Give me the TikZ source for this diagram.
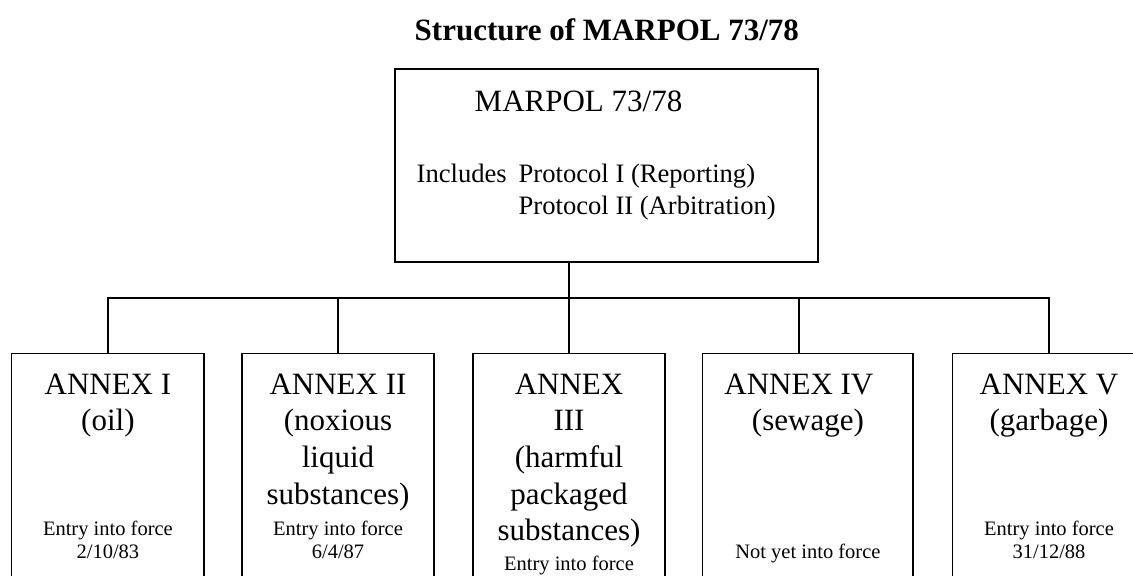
\documentclass[tikz,border=0pt]{standalone}
\usepackage{fontspec}
\setmainfont{Liberation Serif}
\begin{document}
\begin{tikzpicture}[x=0.5pt,y=-0.5pt,line width=0.7pt,
    annexbox/.style={shape=rectangle, draw=black, anchor=north, inner sep=0pt, minimum height=140pt},
    bigtext/.style={font=\fontsize{15.5}{18.35}\selectfont, align=center, anchor=base, inner sep=0pt},
    midtext/.style={font=\fontsize{13.3}{16}\selectfont, align=left, anchor=base west, inner sep=0pt},
    datetext/.style={font=\fontsize{10.25}{11.5}\selectfont, align=center, anchor=base, inner sep=0pt}]

    \useasboundingbox (0,0) rectangle (1133,575);
    \clip (0,0) rectangle (1133,575);

    \node[font=\bfseries\fontsize{15.5}{18.35}\selectfont, anchor=base west, inner sep=0pt] (title) at (414,40) {Structure of MARPOL 73/78};

    % top box (multi-line nodes sit on their last baseline)
    \node[shape=rectangle, draw=black, minimum width=211.5pt, minimum height=96.5pt] (marpol) at (606.5,165.5) {};
    \node[bigtext, anchor=base west] (marpolname) at (474,111) {MARPOL 73/78};
    \node[midtext] (includes) at (416,182) {Includes};
    \node[midtext] (protocols) at (518,214) {Protocol I (Reporting)\\Protocol II (Arbitration)};

    % annex boxes
    \node[annexbox, minimum width=96.15pt] (annexI) at (107.9,353) {};
    \node[annexbox, minimum width=96pt] (annexII) at (338,353) {};
    \node[annexbox, minimum width=96pt] (annexIII) at (569,353) {};
    \node[annexbox, minimum width=105.15pt] (annexIV) at (807.9,353) {};
    \node[annexbox, minimum width=96.5pt] (annexV) at (1049,353) {};

    \node[bigtext] (annexItext) at (107.9,430.7) {ANNEX I\\(oil)};
    \node[bigtext] (annexIItext) at (338,504.1) {ANNEX II\\(noxious\\liquid\\substances)};
    \node[bigtext] (annexIIItext) at (569,540.8) {ANNEX\\III\\(harmful\\packaged\\substances)};
    \node[bigtext] (annexIVtext) at (807.9,430.7) {ANNEX IV\hspace*{9pt}\\(sewage)};
    \node[bigtext] (annexVtext) at (1049,430.7) {ANNEX V\\(garbage)};

    \node[datetext] (annexIdate) at (107.9,558) {Entry into force\\2/10/83};
    \node[datetext] (annexIIdate) at (338,558) {Entry into force\\6/4/87};
    \node[datetext] (annexIIIdate) at (569,570) {Entry into force};
    \node[datetext] (annexIVdate) at (807.9,558) {Not yet into force};
    \node[datetext] (annexVdate) at (1049,558) {Entry into force\\31/12/88};

    % connectors
    \coordinate (bus) at (569,298);
    \draw (marpol.south -| annexIII.north) -- (annexIII.north);
    \draw (annexI.north) |- (bus) -| (annexV.north);
    \draw (annexII.north) -- (annexII.north |- bus);
    \draw ([xshift=-4.5pt]annexIV.north) -- ([xshift=-4.5pt]annexIV.north |- bus);
\end{tikzpicture}
\end{document}
